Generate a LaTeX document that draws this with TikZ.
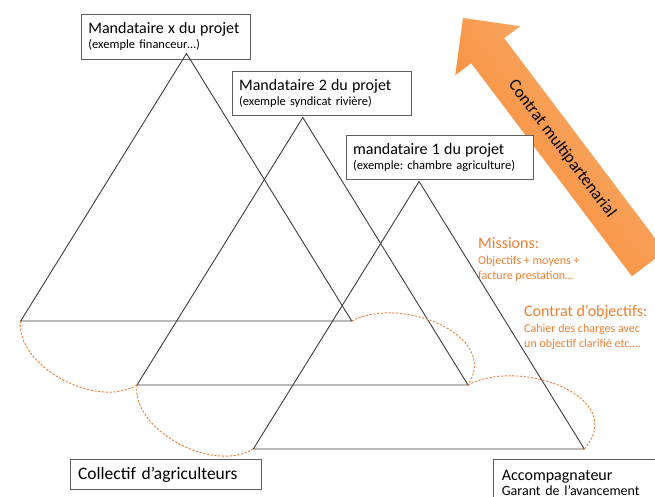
\documentclass[tikz,border=0pt]{standalone}
\usepackage{fontspec}
\setmainfont{Carlito}
\usepackage{tikz}
\usetikzlibrary{calc}
\usetikzlibrary{positioning}
\frenchspacing

\definecolor{trait}{RGB}{60,60,60}
\definecolor{cadregris}{RGB}{95,95,95}
\definecolor{orangetexte}{RGB}{237,125,49}
\definecolor{orangeclair}{RGB}{251,180,118}
\definecolor{orangefonce}{RGB}{245,132,45}

\newcommand{\grandtexte}{\fontsize{16}{15}\selectfont}
\newcommand{\petittexte}{\fontsize{12.5}{15}\selectfont}

\begin{document}
\begin{tikzpicture}[x=1pt,y=-1pt,
    triangle/.style={draw=trait,line width=0.9pt},
    boite/.style={draw=cadregris,line width=0.8pt,fill=white,anchor=north west,
      align=left,inner xsep=7pt,inner ysep=0pt,font=\petittexte},
    lien/.style={draw=orangetexte,line width=0.9pt,dash pattern=on 2.2pt off 1.6pt},
    note/.style={text=orangetexte,anchor=base west,align=left,inner sep=0pt}]
    \useasboundingbox (0,0) rectangle (655,497);
    \clip (0,0) rectangle (655,497);

    \shade[left color=orangefonce,right color=orangeclair,shading angle=127]
      (463,18) -- (520.2,26.2) -- (504.2,38.2) -- (664.9,251.3)
      -- (631.9,276.3) -- (471.2,63.2) -- (455.2,75.2) -- cycle;
    \node[rotate=-53,font=\fontsize{17}{17}\selectfont,inner sep=0pt] (contrat) at (562,149) {Contrat multipartenarial};

    \node[boite,text width=155pt,minimum height=45pt] (mandataire-x) at (81,14)
      {{\grandtexte Mandataire x du projet}\\(exemple financeur…)};
    \node[boite,text width=165pt,minimum height=44pt] (mandataire-2) at (231.7,70.7)
      {{\grandtexte Mandataire 2 du projet}\\(exemple syndicat rivière)};
    \node[boite,text width=173pt,minimum height=44pt] (mandataire-1) at (345.7,134.7)
      {{\grandtexte mandataire 1 du projet}\\(exemple: chambre agriculture)};
    \node[boite,text width=175.6pt,inner xsep=7.7pt,minimum height=30pt,font=\fontsize{17.5}{18}\selectfont] (collectif) at (70,459.3)
      {Collectif d’agriculteurs};
    \node[boite,text width=186pt,inner xsep=8.5pt,minimum height=46pt,font=\fontsize{14}{15}\selectfont] (accompagnateur) at (493,459.3)
      {{\fontsize{16}{15}\selectfont Accompagnateur}\\Garant de l’avancement};

    \foreach \nom/\dx/\dy in {a/0/0, b/116.3/64, c/232.6/128} {
      \coordinate (\nom-haut) at (186.5+\dx,53.5+\dy);
      \coordinate (\nom-g) at (20.7+\dx,321+\dy);
      \coordinate (\nom-d) at (351.7+\dx,321+\dy);
      \draw[triangle] (\nom-haut) -- (\nom-g) -- (\nom-d) -- cycle;
    }

    \draw[lien] (a-g) .. controls +(-5.7,44) and +(-41.7,25) .. (b-g);
    \draw[lien] (b-g) .. controls +(-5.7,44) and +(-41.7,25) .. (c-g);
    \draw[lien] (a-d) .. controls +(48.3,-26) and +(32.7,-50) .. (b-d);
    \draw[lien] (b-d) .. controls +(52,-28) and +(45,-52) .. (c-d);

    \node[note,font=\fontsize{16}{16}\selectfont] (missions) at (478,248) {Missions:};
    \node[note,font=\fontsize{12}{15}\selectfont] (missions-detail) at (478,279)
      {Objectifs + moyens +\\facture prestation…};
    \node[note,font=\fontsize{16}{16}\selectfont] (contrat-objectifs) at (524,316) {Contrat d’objectifs:};
    \node[note,font=\fontsize{12}{15}\selectfont] (contrat-detail) at (524,347)
      {Cahier des charges avec\\un objectif clarifié etc….};
\end{tikzpicture}
\end{document}
